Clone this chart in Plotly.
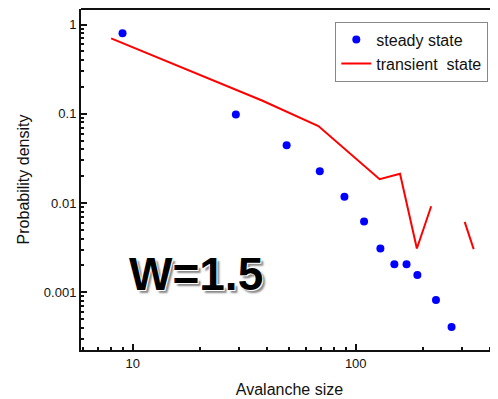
import numpy as np
import plotly.graph_objects as go

# Steady state (markers)
steady_x = [9, 29, 49, 69, 89, 109, 129, 149, 169, 189, 229, 269]
steady_y = [0.80, 0.098, 0.0444, 0.0227, 0.0118, 0.0062, 0.0031, 0.00207, 0.00207, 0.00156, 0.00082, 0.00041]

# Transient state (line, gaps where no data)
trans_x = [8, 38, 68, 98, 128, 158, 188, 218, 248, 278, 308, 338]
trans_y = [0.70, 0.141, 0.073, 0.033, 0.0185, 0.0213, 0.0031, 0.0092, None, None, 0.00615, 0.00305]

x_tickvals = [10, 100]
x_ticktext = ["10", "100"]
y_tickvals = [0.001, 0.01, 0.1, 1]
y_ticktext = ["0.001", "0.01", "0.1", "1"]

FONT = "Liberation Sans, Arial, sans-serif"
OFF = 8  # page body margin

fig = go.Figure()
fig.add_trace(go.Scatter(
    x=steady_x, y=steady_y, mode="markers", name="steady state",
    marker=dict(color="#0000FF", size=8, line=dict(width=0)),
))
fig.add_trace(go.Scatter(
    x=trans_x, y=trans_y, mode="lines", name="transient\u00a0 state",
    line=dict(color="#FF0000", width=2), connectgaps=False,
))

minor_x = [v * m for v in [1, 10, 100] for m in range(2, 10)] + [1000]
minor_y = [v * m for v in [1e-4, 1e-3, 1e-2, 1e-1, 1] for m in range(2, 10)]

fig.update_xaxes(
    type="log", range=[0.768, 2.638],
    tickvals=x_tickvals, ticktext=x_ticktext,
    ticks="inside", ticklen=6, tickwidth=1.5, tickcolor="#111",
    showline=True, linecolor="#111", linewidth=2, mirror=False,
    showgrid=False, zeroline=False,
    tickfont=dict(family=FONT, size=13, color="#111"),
    title=dict(text="Avalanche size", font=dict(family=FONT, size=16, color="#111"), standoff=14),
    minor=dict(tickmode="array", tickvals=minor_x, ticks="inside", ticklen=3, tickcolor="#111", showgrid=False),
    automargin=False,
)
fig.update_yaxes(
    type="log", range=[-3.646, 0.174],
    tickvals=y_tickvals, ticktext=y_ticktext,
    ticks="inside", ticklen=6, tickwidth=1.5, tickcolor="#111",
    showline=True, linecolor="#111", linewidth=2, mirror=False,
    showgrid=False, zeroline=False,
    tickfont=dict(family=FONT, size=13, color="#111"),
    title=dict(text="Probability density", font=dict(family=FONT, size=16, color="#111"), standoff=10),
    minor=dict(tickmode="array", tickvals=minor_y, ticks="inside", ticklen=3, tickcolor="#111", showgrid=False),
    automargin=False,
)

# top frame line
fig.add_shape(type="line", xref="paper", yref="paper", x0=0, x1=1, y0=1, y1=1,
              line=dict(color="#111", width=2))

fig.add_annotation(
    text="<b>W=1.5</b>", xref="paper", yref="paper",
    x=(196 - 81) / 417, y=(350 - 274) / 341, xanchor="center", yanchor="middle",
    showarrow=False,
    font=dict(family=FONT, size=46, color="#000",
              shadow="-1px -1px 0 #fff, 1px 1px 0 #fff, 3px 3px 2px #888"),
)

fig.update_layout(
    width=498 - OFF, height=399 - OFF,
    margin=dict(l=81 - OFF, r=0, t=9 - OFF, b=49, autoexpand=False),
    paper_bgcolor="white", plot_bgcolor="white",
    showlegend=True,
    legend=dict(
        x=(488.3 - 81) / 417, y=(350 - 21.7) / 341, xanchor="right", yanchor="top",
        bgcolor="white", bordercolor="#888", borderwidth=1,
        font=dict(family=FONT, size=16, color="#111"),
        itemwidth=30, tracegroupgap=0,
    ),
)

fig.write_html("out.html")
